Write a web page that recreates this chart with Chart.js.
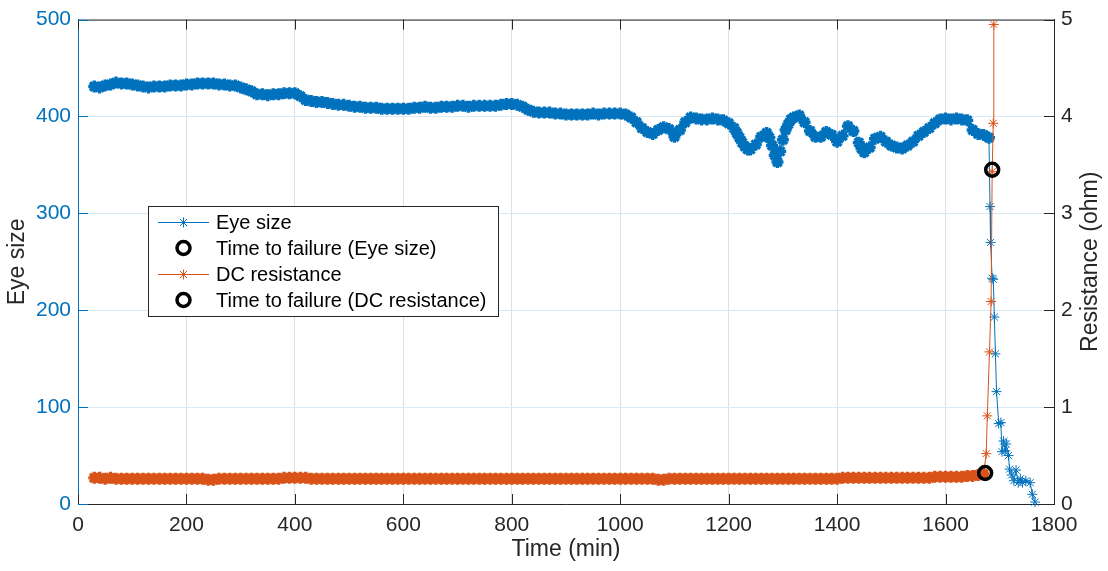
<!DOCTYPE html>
<html>
<head>
<meta charset="utf-8">
<script src="https://cdn.jsdelivr.net/npm/chart.js@4.4.1/dist/chart.umd.min.js"></script>
<style>
  html, body { margin: 0; padding: 0; background: #fff; }
  #wrap { width: 1108px; height: 571px; position: relative; }
</style>
</head>
<body>
<div id="wrap"><canvas id="c"></canvas></div>
<script>
/* Eye size + DC resistance vs time, two y axes */

// sampling times (min) of the long flat part, shared by both series
const sampleTime = [
  30,40,50,60,70,80,90,100,110,120,130,140,150,160,170,180,190,200,210,220,
  230,240,250,260,270,280,290,300,310,320,330,340,350,360,370,380,390,400,410,420,
  430,440,450,460,470,480,490,500,510,520,530,540,550,560,570,580,590,600,610,620,
  630,640,650,660,670,680,690,700,710,720,730,740,750,760,770,780,790,800,810,820,
  830,840,850,860,870,880,890,900,910,920,930,940,950,960,970,980,990,1000,1010,1020,
  1030,1040,1050,1060,1070,1080,1090,1100,1110,1120,1130,1140,1150,1160,1170,1180,1190,1200,1210,1220,
  1230,1240,1250,1260,1270,1280,1290,1300,1310,1320,1330,1340,1350,1360,1370,1380,1390,1400,1410,1420,
  1430,1440,1450,1460,1470,1480,1490,1500,1510,1520,1530,1540,1550,1560,1570,1580,1590,1600,1610,1620,
  1630,1640,1650,1660,1670,1680
];

const eyeSize = [
  431,430,432,433,435,434,434,433,432,431,
  430,431,431,431,432,432,432,433,433,434,
  434,434,434,433,433,432,432,430,428,426,
  423,423,422,423,423,424,424,424,421,417,
  416,415,415,414,413,412,412,411,410,410,
  409,409,409,408,408,408,408,408,408,409,
  409,410,409,409,410,410,410,411,411,410,
  411,411,411,411,411,412,413,413,412,410,
  407,405,404,404,404,403,403,402,402,402,
  402,402,403,402,403,403,403,403,402,399,
  394,388,384,382,386,389,387,379,386,394,
  399,398,397,397,398,397,396,393,388,378,
  369,366,371,379,383,370,353,376,392,399,
  401,394,385,379,379,384,381,374,380,390,
  385,373,363,368,377,379,374,370,368,367,
  370,374,380,384,388,393,397,398,397,398,
  397,396,386,382,381,378
];
// extra readings on the steep wiggles, where the band is denser
const eyeExtraTime = [1215,1225,1235,1275,1285,1295,1305,1315,1445];
const eyeExtraSize = [383,373,366,378,360,364,386,397,367];

const eyeTailTime = [1682,1683,1686,1688,1690,1692,1694,1698,1702,1704,1707,1710,1712,1716,1718,1722,1726,1730,1734,1738,1742,1748,1756,1760,1765];
const eyeTailSize = [307,270,233,232,193,155,116,83,84,54,65,55,62,50,36,30,24,35,22,26,22,24,22,10,2];

const dcResistance = [
  0.27,0.27,0.26,0.27,0.26,0.26,0.26,0.26,0.26,0.26,
  0.26,0.26,0.26,0.26,0.26,0.26,0.26,0.26,0.26,0.26,
  0.26,0.25,0.25,0.26,0.26,0.26,0.26,0.26,0.26,0.26,
  0.26,0.26,0.26,0.26,0.26,0.27,0.27,0.27,0.27,0.27,
  0.26,0.26,0.26,0.26,0.26,0.26,0.26,0.26,0.26,0.26,
  0.26,0.26,0.26,0.26,0.26,0.26,0.26,0.26,0.26,0.26,
  0.26,0.26,0.26,0.26,0.26,0.26,0.26,0.26,0.26,0.26,
  0.26,0.26,0.26,0.26,0.26,0.26,0.26,0.26,0.26,0.26,
  0.26,0.26,0.26,0.26,0.26,0.26,0.26,0.26,0.26,0.26,
  0.26,0.26,0.26,0.26,0.26,0.26,0.26,0.26,0.26,0.26,
  0.26,0.26,0.26,0.26,0.25,0.25,0.26,0.26,0.26,0.26,
  0.26,0.26,0.26,0.26,0.26,0.26,0.26,0.26,0.26,0.26,
  0.26,0.26,0.26,0.26,0.26,0.26,0.26,0.26,0.26,0.26,
  0.26,0.26,0.26,0.26,0.26,0.26,0.26,0.26,0.27,0.27,
  0.27,0.27,0.27,0.27,0.27,0.27,0.27,0.27,0.27,0.27,
  0.27,0.27,0.27,0.27,0.27,0.28,0.28,0.28,0.28,0.28,
  0.28,0.29,0.29,0.30,0.31
];
const dcTailTime = [1675,1677,1681,1684,1686,1688,1689];
const dcTailResistance = [0.52,0.91,1.57,2.09,3.43,3.93,4.95];

// time to failure markers
const eyeFailTime = [1686];
const eyeFailSize = [345];
const dcFailTime = [1673];
const dcFailResistance = [0.32];

const xTicks = [0,200,400,600,800,1000,1200,1400,1600,1800];

const BLUE = '#0072BD';
const ORANGE = '#D95319';
const DARK = '#262626';
const FONT = '"Liberation Sans", Arial, Helvetica, sans-serif';

function pts(xs, ys) { return xs.map((x, i) => ({ x, y: ys[i] })); }

const eyeBand = pts(sampleTime, eyeSize).concat(pts(eyeExtraTime, eyeExtraSize)).sort((a, b) => a.x - b.x);
const eyePts = eyeBand.concat(pts(eyeTailTime, eyeTailSize));
const dcPts = pts(sampleTime.slice(0, dcResistance.length).concat(dcTailTime), dcResistance.concat(dcTailResistance));

// the dense flat part looks like a thick smeared band in the original
const bandWidth = n => c => (c.dataIndex < n ? 3.4 : 1);
const bandRadius = n => c => (c.dataIndex < n ? 6 : 5);

const legendItems = [
  { label: 'Eye size', color: BLUE, kind: 'line' },
  { label: 'Time to failure (Eye size)', color: '#000', kind: 'ring' },
  { label: 'DC resistance', color: ORANGE, kind: 'line' },
  { label: 'Time to failure (DC resistance)', color: '#000', kind: 'ring' },
];

function star(ctx, x, y, r, color) {
  ctx.save();
  ctx.strokeStyle = color; ctx.lineWidth = 1;
  ctx.beginPath();
  for (let k = 0; k < 4; k++) {
    const a = k * Math.PI / 4;
    ctx.moveTo(x - r * Math.cos(a), y - r * Math.sin(a));
    ctx.lineTo(x + r * Math.cos(a), y + r * Math.sin(a));
  }
  ctx.stroke();
  ctx.restore();
}

const decor = {
  id: 'decor',
  beforeDatasetsDraw(chart) {
    const { ctx, chartArea: a, scales } = chart;
    ctx.save();
    ctx.lineWidth = 1;
    ctx.strokeStyle = DARK;
    ctx.beginPath();
    ctx.moveTo(a.left, a.top + 0.5); ctx.lineTo(a.right, a.top + 0.5);
    ctx.stroke();
    // inward ticks
    const tl = 10;
    ctx.beginPath();
    scales.x.ticks.forEach(t => {
      const px = Math.round(scales.x.getPixelForValue(t.value)) + 0.5;
      ctx.moveTo(px, a.bottom); ctx.lineTo(px, a.bottom - tl);
      ctx.moveTo(px, a.top); ctx.lineTo(px, a.top + tl);
    });
    scales.y1.ticks.forEach(t => {
      const py = Math.round(scales.y1.getPixelForValue(t.value)) + 0.5;
      ctx.moveTo(a.right, py); ctx.lineTo(a.right - tl, py);
    });
    ctx.stroke();
    ctx.strokeStyle = BLUE;
    ctx.beginPath();
    scales.y.ticks.forEach(t => {
      const py = Math.round(scales.y.getPixelForValue(t.value)) + 0.5;
      ctx.moveTo(a.left, py); ctx.lineTo(a.left + tl, py);
    });
    ctx.stroke();
    ctx.restore();
  },
  afterDraw(chart) {
    const { ctx, chartArea: a } = chart;
    ctx.save();
    ctx.fillStyle = DARK;
    ctx.font = '23px ' + FONT;
    ctx.textAlign = 'center';
    ctx.textBaseline = 'middle';
    ctx.fillText('Time (min)', (a.left + a.right) / 2, 550);
    const midY = (a.top + a.bottom) / 2;
    ctx.save(); ctx.translate(18, midY); ctx.rotate(-Math.PI / 2); ctx.fillText('Eye size', 0, 0); ctx.restore();
    ctx.save(); ctx.translate(1091, midY); ctx.rotate(-Math.PI / 2); ctx.fillText('Resistance (ohm)', 0, 0); ctx.restore();

    // legend box
    const bx = 148, by = 206, bw = 350, rowH = 26, bh = 16 * 2 + rowH * 3;
    ctx.fillStyle = '#fff';
    ctx.fillRect(bx, by, bw, bh);
    ctx.strokeStyle = DARK; ctx.lineWidth = 1;
    ctx.strokeRect(bx + 0.5, by + 0.5, bw, bh);
    ctx.font = '20px ' + FONT;
    ctx.textAlign = 'left';
    legendItems.forEach((it, i) => {
      const y = by + 16 + i * rowH;
      if (it.kind === 'line') {
        ctx.strokeStyle = it.color; ctx.lineWidth = 1;
        ctx.beginPath(); ctx.moveTo(158, y + 0.5); ctx.lineTo(209, y + 0.5); ctx.stroke();
        star(ctx, 183.5, y + 0.5, 5, it.color);
      } else {
        ctx.strokeStyle = it.color; ctx.lineWidth = 3.5;
        ctx.beginPath(); ctx.arc(183.5, y, 6.5, 0, Math.PI * 2); ctx.stroke();
      }
      ctx.fillStyle = '#000';
      ctx.fillText(it.label, 216, y + 1);
    });
    ctx.restore();
  }
};

new Chart(document.getElementById('c').getContext('2d'), {
  type: 'scatter',
  data: {
    datasets: [
      {
        label: 'Time to failure (Eye size)', data: pts(eyeFailTime, eyeFailSize), yAxisID: 'y',
        pointStyle: 'circle', pointRadius: 6.5, borderColor: '#000', backgroundColor: 'rgba(0,0,0,0)',
        borderWidth: 3.5, showLine: false, order: 0, clip: false,
      },
      {
        label: 'Time to failure (DC resistance)', data: pts(dcFailTime, dcFailResistance), yAxisID: 'y1',
        pointStyle: 'circle', pointRadius: 6.5, borderColor: '#000', backgroundColor: 'rgba(0,0,0,0)',
        borderWidth: 3.5, showLine: false, order: 1, clip: false,
      },
      {
        label: 'DC resistance', data: dcPts, yAxisID: 'y1',
        showLine: true, borderColor: ORANGE, backgroundColor: ORANGE, borderWidth: 1,
        pointStyle: 'star', pointRadius: bandRadius(dcResistance.length),
        pointBorderWidth: bandWidth(dcResistance.length), pointBorderColor: ORANGE,
        order: 2, clip: false,
      },
      {
        label: 'Eye size', data: eyePts, yAxisID: 'y',
        showLine: true, borderColor: BLUE, backgroundColor: BLUE, borderWidth: 1,
        pointStyle: 'star', pointRadius: bandRadius(eyeBand.length),
        pointBorderWidth: bandWidth(eyeBand.length), pointBorderColor: BLUE,
        order: 3, clip: false,
      },
    ],
  },
  options: {
    responsive: true,
    maintainAspectRatio: false,
    animation: false,
    layout: { padding: { top: 17, left: 0, right: 0, bottom: 0 } },
    plugins: { legend: { display: false }, tooltip: { enabled: false } },
    elements: { line: { tension: 0 } },
    scales: {
      x: {
        type: 'linear', min: 0, max: 1800,
        afterBuildTicks: s => { s.ticks = xTicks.map(v => ({ value: v })); },
        afterFit: s => { s.height = 67; },
        grid: { color: '#dfdfdf', drawTicks: false },
        border: { color: DARK, width: 1 },
        ticks: { color: DARK, padding: 9, font: { family: FONT, size: 21 }, maxRotation: 0, callback: v => String(v) },
      },
      y: {
        position: 'left', min: 0, max: 500,
        afterFit: s => { s.width = 78; },
        grid: { color: '#d9eaf5', drawTicks: false },
        border: { color: BLUE, width: 1 },
        ticks: { stepSize: 100, color: BLUE, padding: 7, font: { family: FONT, size: 21 }, callback: v => String(v) },
      },
      y1: {
        position: 'right', min: 0, max: 5,
        afterFit: s => { s.width = 54; },
        grid: { drawOnChartArea: false, drawTicks: false },
        border: { color: DARK, width: 1 },
        ticks: { stepSize: 1, color: DARK, padding: 7, font: { family: FONT, size: 21 }, callback: v => String(v) },
      },
    },
  },
  plugins: [decor],
});
</script>
</body>
</html>
